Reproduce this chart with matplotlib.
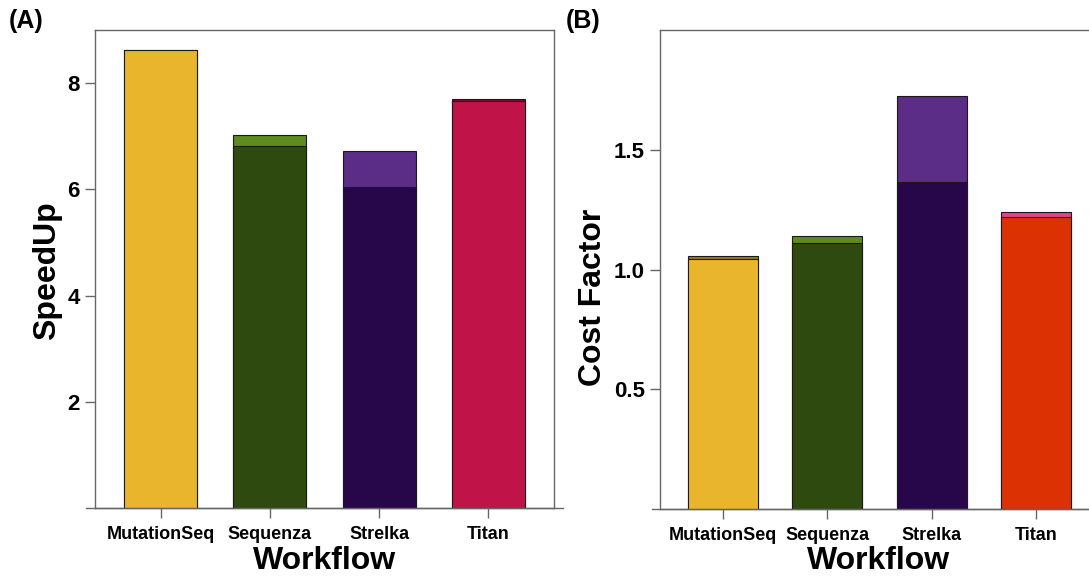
import numpy as np
import matplotlib
matplotlib.use('Agg')
import matplotlib.pyplot as plt

plt.rcParams['font.family'] = ['Liberation Sans', 'DejaVu Sans']
plt.rcParams['font.weight'] = 'bold'

workflows = ['MutationSeq', 'Sequenza', 'Strelka', 'Titan']

## speedup: total bar (lighter top) and inner bar
speedup_total = [8.62, 7.02, 6.72, 7.70]
speedup_base = [8.62, 6.82, 6.05, 7.66]
## cost factor
cost_total = [1.055, 1.140, 1.726, 1.238]
cost_base = [1.045, 1.111, 1.365, 1.220]

base_cols_a = ['#E8B52C', '#2F4A0E', '#28064A', '#C01448']
top_cols_a = ['#9C7A1C', '#5E8A1E', '#5C2D86', '#7A1234']
base_cols_b = ['#E8B52C', '#2F4A0E', '#28064A', '#DC3103']
top_cols_b = ['#9C7A1C', '#5E8A1E', '#5C2D86', '#E0448A']

W, H = 1089, 576
fig = plt.figure(figsize=(W/100.0, H/100.0), dpi=100)

def px(l, b, w, h):
    return [l/W, (H-b)/H, w/W, h/H]

ax1 = fig.add_axes(px(95, 508, 459, 478))
ax2 = fig.add_axes(px(660, 509, 439, 479))

x = np.arange(len(workflows))
frame_col = '#666666'

def draw(ax, tot, base, ctop, cbase, ylim, yticks, yticklabels):
    ax.bar(x, tot, width=0.67, color=ctop, edgecolor='#1a1a1a', linewidth=0.8, zorder=2)
    ax.bar(x, base, width=0.67, color=cbase, edgecolor='#1a1a1a', linewidth=0.8, zorder=3)
    ax.set_xlim(-0.6, 3.6)
    ax.set_ylim(ylim)
    ax.set_yticks(yticks)
    ax.set_yticklabels(yticklabels, fontsize=16, fontweight='bold')
    ax.set_xticks(x)
    ax.set_xticklabels(workflows, fontsize=13, fontweight='bold')
    ax.tick_params(axis='y', length=7, width=1, color=frame_col, pad=4)
    ax.tick_params(axis='x', length=7, width=1, color=frame_col, pad=6)
    for s in ax.spines.values():
        s.set_color(frame_col)
        s.set_linewidth(1.0)
    ## x axis line sticks out a bit past the box
    ax.plot([-0.68, 3.68], [0, 0], color=frame_col, lw=1.0, clip_on=False, zorder=5)

draw(ax1, speedup_total, speedup_base, top_cols_a, base_cols_a,
     (0, 9), [2, 4, 6, 8], ['2', '4', '6', '8'])
draw(ax2, cost_total, cost_base, top_cols_b, base_cols_b,
     (0, 2), [0.5, 1.0, 1.5], ['0.5', '1.0', '1.5'])

fig.text(47/W, 1-271/H, 'SpeedUp', rotation=90, ha='center', va='center', fontsize=23, fontweight='bold')
fig.text(593/W, 1-297/H, 'Cost Factor', rotation=90, ha='center', va='center', fontsize=23, fontweight='bold')
fig.text(325/W, 1-561/H, 'Workflow', ha='center', va='center', fontsize=23, fontweight='bold')
fig.text(879/W, 1-561/H, 'Workflow', ha='center', va='center', fontsize=23, fontweight='bold')
fig.text(9/W, 1-21/H, '(A)', ha='left', va='center', fontsize=18, fontweight='bold')
fig.text(566/W, 1-21/H, '(B)', ha='left', va='center', fontsize=18, fontweight='bold')

plt.savefig('out.png', dpi=100)
